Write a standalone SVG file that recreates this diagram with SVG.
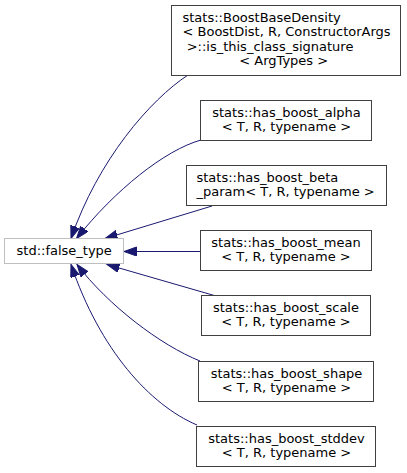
<svg xmlns="http://www.w3.org/2000/svg" width="407" height="473" viewBox="0 0 407 473">
<style>
.node rect{fill:#ffffff;stroke:#404040;stroke-width:1}
.node.ext rect{stroke:#bfbfbf}
text{font-family:"DejaVu Sans","Liberation Sans",sans-serif;font-size:13px;fill:#000000}
.c{text-anchor:middle}
.edge{fill:none;stroke:#191970;stroke-width:1;marker-end:url(#arr)}
</style>
<defs>
<marker id="arr" markerUnits="userSpaceOnUse" markerWidth="14" markerHeight="10" refX="12.5" refY="4.5" orient="auto">
<path d="M0,0 L12.5,4.5 L0,9 Z" fill="#191970" stroke="#191970" stroke-width="1"/>
</marker>
</defs>
<rect width="407" height="473" fill="#ffffff"/>
<g id="connectors">
<path class="edge" d="M188,75 C150,100 98,160 71,238.5"/>
<path class="edge" d="M201,140 C165,150 115,190 76.5,238.5"/>
<path class="edge" d="M212,206 L105,238.5"/>
<path class="edge" d="M200,251.5 L124,251.5"/>
<path class="edge" d="M216,296 L107,264.5"/>
<path class="edge" d="M200,361 C160,345 108,305 77,264.5"/>
<path class="edge" d="M197,425 C150,405 100,350 71,264.5"/>
</g>
<g id="node_boostbasedensity" class="node">
<rect x="171.5" y="5.5" width="229" height="70"/>
<text x="182.5" y="21.5">stats::BoostBaseDensity</text>
<text x="182.5" y="36">&lt; BoostDist, R, ConstructorArgs</text>
<text x="182.5" y="50.5" xml:space="preserve"> &gt;::is_this_class_signature</text>
<text class="c" x="283.7" y="65">&lt; ArgTypes &gt;</text>
</g>
<g id="node_alpha" class="node">
<rect x="200.5" y="100.5" width="171" height="40"/>
<text class="c" x="286.5" y="116.5">stats::has_boost_alpha</text>
<text class="c" x="286.5" y="131">&lt; T, R, typename &gt;</text>
</g>
<g id="node_beta" class="node">
<rect x="186.5" y="165.5" width="200" height="40"/>
<text x="196.5" y="181.5">stats::has_boost_beta</text>
<text x="196.5" y="196">_param&lt; T, R, typename &gt;</text>
</g>
<g id="node_false_type" class="node ext">
<rect x="4.5" y="238.5" width="119" height="25"/>
<text class="c" x="64.2" y="255">std::false_type</text>
</g>
<g id="node_mean" class="node">
<rect x="200.5" y="230.5" width="171" height="40"/>
<text class="c" x="286" y="246.5">stats::has_boost_mean</text>
<text class="c" x="286" y="261">&lt; T, R, typename &gt;</text>
</g>
<g id="node_scale" class="node">
<rect x="201.5" y="295.5" width="169" height="40"/>
<text class="c" x="286" y="311.5">stats::has_boost_scale</text>
<text class="c" x="286" y="326">&lt; T, R, typename &gt;</text>
</g>
<g id="node_shape" class="node">
<rect x="198.5" y="361.5" width="175" height="40"/>
<text class="c" x="286.5" y="377.5">stats::has_boost_shape</text>
<text class="c" x="286.5" y="392">&lt; T, R, typename &gt;</text>
</g>
<g id="node_stddev" class="node">
<rect x="196.5" y="426.5" width="179" height="40"/>
<text class="c" x="286.5" y="442.5">stats::has_boost_stddev</text>
<text class="c" x="286.5" y="457">&lt; T, R, typename &gt;</text>
</g>
</svg>
